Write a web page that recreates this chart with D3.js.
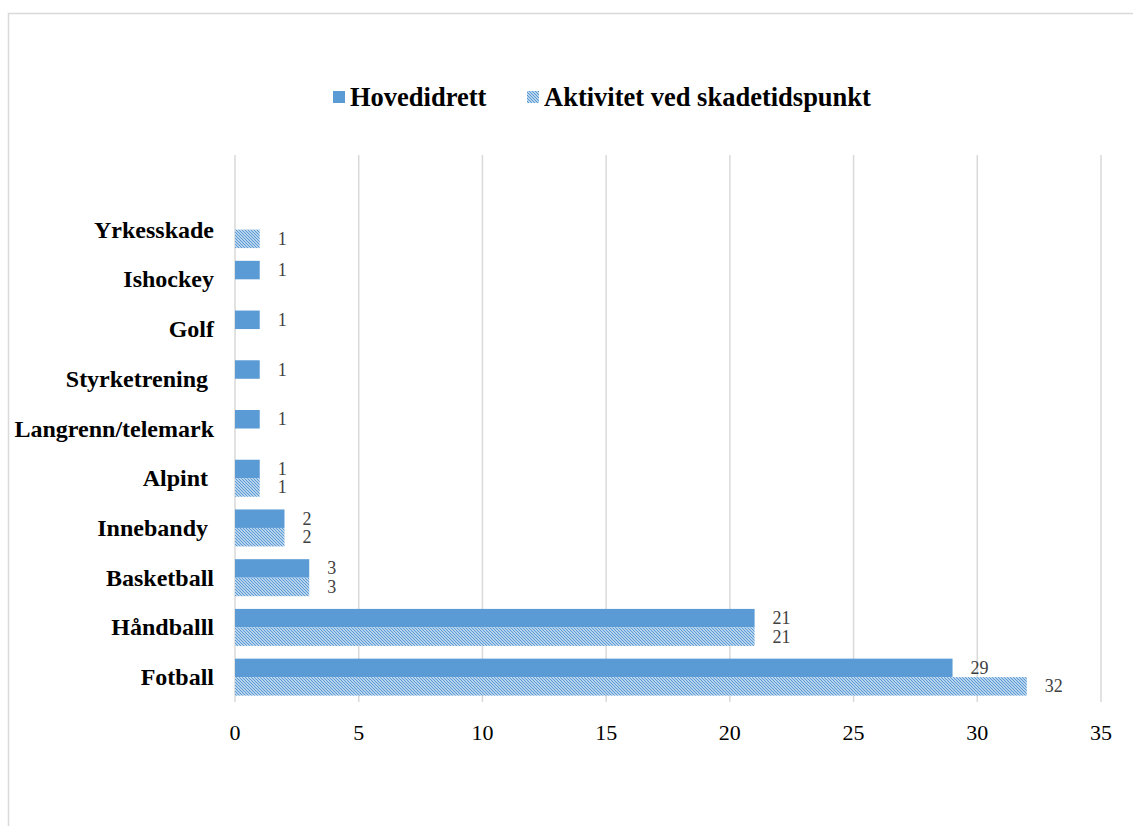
<!DOCTYPE html>
<html>
<head>
<meta charset="utf-8">
<script src="https://d3js.org/d3.v7.min.js"></script>
<title>skader per idrett</title>
<style>
html, body {
	margin: 0;
	padding: 0;
	background: white;
}
svg {
	display: block;
	font-family: 'Liberation Serif', 'Times New Roman', serif;
}
</style>
</head>
<body>
<svg></svg>
<script>
// data (top to bottom, first entry is an empty slot above the bars)
var categories = ["", "Yrkesskade", "Ishockey", "Golf", "Styrketrening ", "Langrenn/telemark",
	"Alpint ", "Innebandy ", "Basketball", "Håndballl", "Fotball"];
var hovedidrett = [null, null, 1, 1, 1, 1, 1, 2, 3, 21, 29];
var aktivitet = [null, 1, null, null, null, null, 1, 2, 3, 21, 32];
var seriesNames = ["Hovedidrett", "Aktivitet ved skadetidspunkt"];
var xTicks = [0, 5, 10, 15, 20, 25, 30, 35];

var width = 1133;
var height = 826;
var blue = "#5b9bd5";

var svg = d3.select("svg")
	.attr("width", width)
	.attr("height", height);

// hatch pattern for second series
var defs = svg.append("defs");
var pat = defs.append("pattern")
	.attr("id", "hatch")
	.attr("patternUnits", "userSpaceOnUse")
	.attr("width", 3)
	.attr("height", 3);
pat.append("rect").attr("width", 3).attr("height", 3).attr("fill", "#ffffff");
pat.append("path")
	.attr("d", "M-1,-1 l5,5 M-1,2 l2,2 M2,-1 l2,2")
	.attr("stroke", blue)
	.attr("stroke-width", 1.3);

// outer chart border
svg.append("rect")
	.attr("x", 8.5)
	.attr("y", 13.5)
	.attr("width", 1200)
	.attr("height", 900)
	.attr("fill", "none")
	.attr("stroke", "#d9d9d9")
	.attr("stroke-width", 1.5);

var x = d3.scaleLinear().domain([0, 35]).range([235, 1101]);
var y = d3.scaleBand().domain(d3.range(categories.length)).range([155, 702]);
var barH = 18.5;

// gridlines
svg.append("g")
	.selectAll("line")
	.data(xTicks)
	.enter().append("line")
		.attr("x1", function(d) { return x(d); })
		.attr("x2", function(d) { return x(d); })
		.attr("y1", 155)
		.attr("y2", 702)
		.style("stroke", "#d9d9d9")
		.style("stroke-width", 1.5);

// x tick labels
svg.append("g")
	.selectAll("text")
	.data(xTicks)
	.enter().append("text")
		.attr("x", function(d) { return x(d); })
		.attr("y", 740)
		.attr("text-anchor", "middle")
		.style("font-size", "22px")
		.style("fill", "#000")
		.text(function(d) { return d; });

// category labels
svg.append("g")
	.selectAll("text")
	.data(categories)
	.enter().append("text")
		.attr("x", 214)
		.attr("y", function(d, i) { return y(i) + y.bandwidth() / 2 + 8; })
		.attr("text-anchor", "end")
		.attr("xml:space", "preserve")
		.style("white-space", "pre")
		.style("font-size", "24px")
		.style("font-weight", "bold")
		.style("fill", "#000")
		.text(function(d) { return d; });

function drawSeries(values, fill, offset) {
	var rows = values.map(function(v, i) { return {i: i, v: v}; })
		.filter(function(d) { return d.v != null; });
	var g = svg.append("g");
	g.selectAll("rect")
		.data(rows)
		.enter().append("rect")
			.attr("x", x(0))
			.attr("y", function(d) { return y(d.i) + y.bandwidth() / 2 + offset; })
			.attr("width", function(d) { return x(d.v) - x(0); })
			.attr("height", barH)
			.attr("fill", fill);
	g.selectAll("text")
		.data(rows)
		.enter().append("text")
			.attr("x", function(d) { return x(d.v) + 18; })
			.attr("y", function(d) { return y(d.i) + y.bandwidth() / 2 + offset + barH / 2 + 6; })
			.style("font-size", "18px")
			.style("fill", "#404040")
			.text(function(d) { return d.v; });
}
drawSeries(hovedidrett, blue, -barH);
drawSeries(aktivitet, "url(#hatch)", 0);

// legend
var legend = svg.append("g");
var legendItems = [
	{name: seriesNames[0], fill: blue, x: 333},
	{name: seriesNames[1], fill: "url(#hatch)", x: 527}
];
legend.selectAll("rect")
	.data(legendItems)
	.enter().append("rect")
		.attr("x", function(d) { return d.x; })
		.attr("y", 91)
		.attr("width", 12)
		.attr("height", 12)
		.attr("fill", function(d) { return d.fill; });
legend.selectAll("text")
	.data(legendItems)
	.enter().append("text")
		.attr("x", function(d) { return d.x + 17; })
		.attr("y", 106)
		.style("font-size", "26.5px")
		.style("font-weight", "bold")
		.style("fill", "#000")
		.text(function(d) { return d.name; });
</script>
</body>
</html>
